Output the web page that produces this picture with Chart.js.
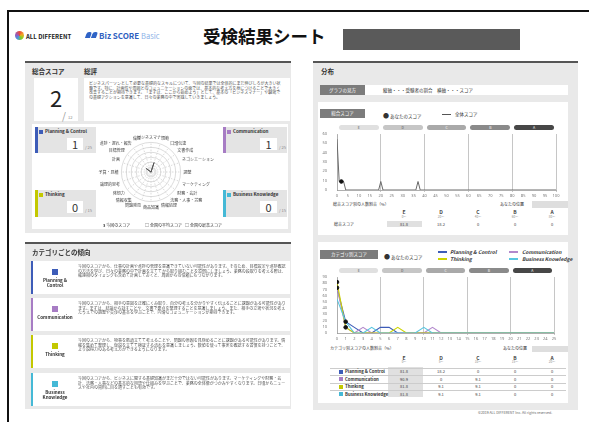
<!DOCTYPE html>
<html lang="ja">
<head>
<meta charset="utf-8">
<script src="https://cdn.jsdelivr.net/npm/chart.js@4.4.1/dist/chart.umd.min.js"></script>
<style>
body { margin: 0; background: #fff; font-family: "Noto Sans CJK JP", "Noto Sans", sans-serif; color: #333; }
#page { position: relative; width: 589px; height: 422px; overflow: hidden; }
.a { position: absolute; }
.panel { background: #e9e9e9; border-top: 2px solid #555; box-sizing: border-box; }
.card { background: #fff; }
.lbl { background: #7c7c7c; color: #fff; font-size: 4.5px; line-height: 9px; text-align: center; }
.tiny { font-size: 4px; line-height: 4.7px; color: #555; overflow: hidden; }
.h { font-size: 6.5px; font-weight: bold; color: #333; }
.box { background: #e4e4e4; box-sizing: border-box; border-left: 3px solid; }
.boxt { font-size: 4.5px; font-weight: bold; color: #333; white-space: nowrap; }
.wbox { background: #fff; text-align: center; font-size: 11px; line-height: 12px; color: #333; }
.of { font-size: 4px; color: #888; }
.tcard { background: #fff; box-sizing: border-box; border-left: 2px solid; }
.sq { width: 6px; height: 6px; }
.cl { font-size: 4.5px; font-weight: bold; text-align: center; line-height: 5px; color: #333; }
.pill { height: 5px; border-radius: 3px; font-size: 3.5px; line-height: 5px; text-align: center; }
.cell { font-size: 4px; text-align: center; color: #444; }
.leg { font-size: 4.5px; color: #333; white-space: nowrap; }
.legb { font-size: 5px; font-weight: bold; font-style: italic; color: #333; white-space: nowrap; }
</style>
</head>
<body>
<div id="page">
  <!-- header -->
  <div class="a" style="left:7px;top:10px;width:600px;height:420px;border-top:2px solid #111;border-left:2px solid #111;"></div>
  <div class="a" style="left:15px;top:31px;width:9px;height:9px;border-radius:50%;background:conic-gradient(#e94b3c,#f5a623,#7ed321,#4a90e2,#9b59b6,#e94b3c);"></div>
  <div class="a" style="left:26px;top:32px;font-size:6px;font-weight:bold;color:#222;">ALL DIFFERENT</div>
  <div class="a" style="left:86px;top:32px;width:5px;height:6px;background:#2f63c6;transform:skewX(-20deg);border-radius:2px 2px 0 0;"></div>
  <div class="a" style="left:92px;top:32px;width:5px;height:6px;background:#2f63c6;transform:skewX(-20deg);border-radius:2px 2px 0 0;"></div>
  <div class="a" style="left:99px;top:30px;font-size:8px;font-weight:bold;color:#2f5fbf;white-space:nowrap;">Biz SCORE <span style="font-weight:normal;color:#8db3e8;font-size:7.5px;">Basic</span></div>
  <div class="a" style="left:203px;top:23px;font-size:17.5px;font-weight:bold;color:#111;white-space:nowrap;">受検結果シート</div>
  <div class="a" style="left:343px;top:29px;width:177px;height:21px;background:#5a5a5a;"></div>

  <!-- left panel 1 -->
  <div class="a panel" style="left:25px;top:61px;width:266px;height:172px;"></div>
  <div class="a h" style="left:32px;top:66px;">総合スコア</div>
  <div class="a h" style="left:84px;top:66px;">総評</div>
  <div class="a card" style="left:34px;top:78px;width:44px;height:43px;"></div>
  <div class="a" style="left:34px;top:84px;width:44px;text-align:center;font-size:22px;line-height:26px;color:#222;">2</div>
  <div class="a" style="left:62px;top:108px;font-size:10px;color:#999;">/</div>
  <div class="a of" style="left:68px;top:114px;">12</div>
  <div class="a card" style="left:84px;top:78px;width:206px;height:43px;"></div>
  <div class="a tiny" style="left:89px;top:81px;width:195px;height:30px;">ビジネスパーソンとして必要な基礎的なスキルについて、今回の結果では全体的にまだ伸びしろが大きい状態です。特に、計画性や周囲とのコミュニケーションの面では、基本的な考え方を身につけることで大きく改善することが期待できます。「まずは、ここから始めよう」として、基本の「ビジネスマナー」や職場での基礎アクションを意識して、日々の業務の中で実践していきましょう。</div>
  <div class="a card" style="left:32px;top:124px;width:256px;height:105px;"></div>

  <div class="a box" style="left:35px;top:127px;width:61px;height:26px;border-color:#3d5cb8;"></div>
  <div class="a" style="left:39px;top:130px;width:4px;height:4px;background:#3d5cb8;"></div>
  <div class="a boxt" style="left:45px;top:128px;">Planning &amp; Control</div>
  <div class="a wbox" style="left:67px;top:138px;width:16px;height:12px;">1</div>
  <div class="a of" style="left:85px;top:144px;">/ 25</div>

  <div class="a box" style="left:223px;top:127px;width:64px;height:26px;border-color:#a77cc4;"></div>
  <div class="a" style="left:227px;top:130px;width:4px;height:4px;background:#a77cc4;"></div>
  <div class="a boxt" style="left:233px;top:128px;">Communication</div>
  <div class="a wbox" style="left:260px;top:138px;width:17px;height:12px;">1</div>
  <div class="a of" style="left:279px;top:144px;">/ 25</div>

  <div class="a box" style="left:35px;top:190px;width:61px;height:27px;border-color:#c3c800;"></div>
  <div class="a" style="left:39px;top:193px;width:4px;height:4px;background:#c3c800;"></div>
  <div class="a boxt" style="left:45px;top:191px;">Thinking</div>
  <div class="a wbox" style="left:67px;top:201px;width:16px;height:12px;">0</div>
  <div class="a of" style="left:85px;top:207px;">/ 15</div>

  <div class="a box" style="left:223px;top:190px;width:64px;height:27px;border-color:#45b9d6;"></div>
  <div class="a" style="left:227px;top:193px;width:4px;height:4px;background:#45b9d6;"></div>
  <div class="a boxt" style="left:233px;top:191px;">Business Knowledge</div>
  <div class="a wbox" style="left:260px;top:201px;width:17px;height:12px;">0</div>
  <div class="a of" style="left:279px;top:207px;">/ 15</div>

  <canvas id="chart-radar" class="a" width="126" height="102" style="left:94px;top:121px;"></canvas>
  <div class="a leg" style="left:103px;top:222px;font-size:4px;"><b>3</b> 今回のスコア</div>
  <div class="a leg" style="left:145px;top:222px;font-size:4px;">□ 全国の平均スコア</div>
  <div class="a leg" style="left:185px;top:222px;font-size:4px;">□ 全国の最高スコア</div>

  <!-- left panel 2 -->
  <div class="a panel" style="left:25px;top:242px;width:266px;height:167px;"></div>
  <div class="a h" style="left:32px;top:247px;">カテゴリごとの傾向</div>
  <div id="trend-cards"></div>

  <!-- right panel -->
  <div class="a panel" style="left:313px;top:61px;width:265px;height:349px;"></div>
  <div class="a h" style="left:321px;top:66px;">分布</div>
  <div class="a card" style="left:320px;top:85px;width:248px;height:10px;"></div>
  <div class="a lbl" style="left:320px;top:85px;width:45px;height:10px;line-height:10px;">グラフの見方</div>
  <div class="a leg" style="left:383px;top:87px;">縦軸・・・受験者の割合　横軸・・・スコア</div>

  <div class="a card" style="left:318px;top:102px;width:250px;height:133px;"></div>
  <div class="a lbl" style="left:320px;top:109px;width:45px;height:9px;">総合スコア</div>
  <div class="a leg" style="left:383px;top:111px;"><span style="font-size:6px;">●</span> あなたのスコア</div>
  <div class="a" style="left:442px;top:114px;width:9px;height:1px;background:#555;"></div>
  <div class="a leg" style="left:455px;top:111px;">全体スコア</div>
  <div id="pills-total"></div>
  <canvas id="chart-total" class="a" width="239" height="70" style="left:322px;top:129px;"></canvas>
  <div class="a leg" style="left:333px;top:201px;font-size:4px;">総合スコア別の人数割合（%）</div>
  <div class="a leg" style="left:500px;top:201px;font-size:4px;">あなたの位置</div>
  <div class="a" style="left:532px;top:201px;width:36px;height:7px;background:#dedede;"></div>
  <div id="table-total"></div>

  <div class="a card" style="left:318px;top:242px;width:250px;height:161px;"></div>
  <div class="a lbl" style="left:320px;top:250px;width:58px;height:9px;">カテゴリ別スコア</div>
  <div class="a leg" style="left:384px;top:252px;"><span style="font-size:6px;">●</span> あなたのスコア</div>
  <div class="a" style="left:438px;top:251px;width:9px;height:1.5px;background:#3d5cb8;"></div>
  <div class="a legb" style="left:450px;top:248px;">Planning &amp; Control</div>
  <div class="a" style="left:438px;top:258px;width:9px;height:1.5px;background:#cdd400;"></div>
  <div class="a legb" style="left:450px;top:255px;">Thinking</div>
  <div class="a" style="left:509px;top:251px;width:9px;height:1.5px;background:#b288cc;"></div>
  <div class="a legb" style="left:522px;top:248px;">Communication</div>
  <div class="a" style="left:509px;top:258px;width:9px;height:1.5px;background:#58c6e0;"></div>
  <div class="a legb" style="left:522px;top:255px;">Business Knowledge</div>
  <div id="pills-cat"></div>
  <canvas id="chart-cat" class="a" width="237" height="70" style="left:322px;top:272px;"></canvas>
  <div class="a leg" style="left:330px;top:345px;font-size:4px;">カテゴリ別スコアの人数割合（%）</div>
  <div class="a leg" style="left:503px;top:345px;font-size:4px;">あなたの位置</div>
  <div class="a" style="left:532px;top:346px;width:36px;height:6px;background:#dedede;"></div>
  <div id="table-cat"></div>

  <div class="a" style="left:478px;top:410px;font-size:3.5px;color:#666;white-space:nowrap;">©2019 ALL DIFFERENT Inc. All rights reserved.</div>
</div>

<script>
// radar: skill scores
const skillLabels = ["ビジネスマナー", "規範", "口頭伝達", "文書作成", "ネゴシエーション", "調整",
    "マーケティング", "財務・会計", "法務・人事・労務", "情報処理", "商品知識", "問題発見",
    "情報収集", "発想力", "論理的思考", "予算・見積", "計画", "目標管理", "進捗・遅れ・報告", "倫理"];
const skillScores = [0, 1, 0, 0, 0, 0, 0, 0, 0, 0, 0, 0, 0, 0, 0, 0, 0, 0.6, 0, 0];

// total score distribution
const totalScoreX = [0, 1, 2, 3, 4, 19, 20, 21, 36, 37, 38, 100];
const totalShare = [54.5, 9.1, 9.1, 9.1, 0, 0, 9.1, 0, 0, 9.1, 0, 0];
const myTotalX = [2];
const myTotalY = [9.1];
const totalTicksY = [0, 60, 10];

// grades
const gradeNames = ["E", "D", "C", "B", "A"];
const gradeColors = ["#e0e0e0", "#c6c6c6", "#a9a9a9", "#8a8a8a", "#474747"];
const gradeText = ["#555", "#555", "#fff", "#fff", "#fff"];
const totalGradeFrom = [0, 20, 40, 60, 80];
const totalGradeTo = [20, 40, 60, 80, 100];
const catGradeFrom = [0, 5, 10, 15, 20];
const catGradeTo = [5, 10, 15, 20, 25];

// category score distribution
const catScoreX = [0, 1, 2, 3, 4, 5, 6, 7, 8, 9, 10, 11, 12, 13, 14, 15, 16, 17, 18, 19, 20, 21, 22, 23, 24, 25];
const pcShare    = [72.7, 18.2, 9.1, 0, 0, 9.1, 9.1, 0, 0, 0, 0, 0, 0, 0, 0, 0, 0, 0, 0, 0, 0, 0, 0, 0, 0, 0];
const commShare  = [72.7, 9.1, 0, 9.1, 0, 0, 0, 0, 0, 0, 0, 9.1, 0, 0, 0, 0, 0, 0, 0, 0, 0, 0, 0, 0, 0, 0];
const thinkShare = [81.8, 9.1, 0, 0, 0, 0, 0, 9.1, 0, 0, 0, 0, 0, 0, 0, 0, 0, 0, 0, 0, 0, 0, 0, 0, 0, 0];
const bkShare    = [54.5, 18.2, 0, 0, 9.1, 0, 0, 0, 0, 0, 9.1, 0, 0, 0, 0, 0, 0, 0, 0, 0, 0, 0, 0, 0, 0, 0];
const myCatX = [0, 0, 1, 1];
const myCatY = [81.8, 72.7, 18.2, 9.1];

// tables (%)
const totalTable = [81.8, 18.2, 0, 0, 0];
const pcTable    = [81.8, 18.2, 0, 0, 0];
const commTable  = [90.9, 0, 9.1, 0, 0];
const thinkTable = [81.8, 9.1, 9.1, 0, 0];
const bkTable    = [81.8, 9.1, 9.1, 0, 0];
const totalSub = ["0〜", "20〜", "40〜", "60〜", "80〜"];
const catSub = ["0〜", "5〜", "10〜", "15〜", "20〜"];

const catNames = ["Planning & Control", "Communication", "Thinking", "Business Knowledge"];
const catColors = ["#3d5cb8", "#a77cc4", "#c3c800", "#45b9d6"];
const catTexts = [
    "今回のスコアから、仕事の計画や進捗の管理を意識できていない可能性があります。そのため、目標設定や進捗確認の方法を学び、日々の業務の中で計画を立ててから取り組むことを習慣にしましょう。業務の段取りを考える際は、報連相のタイミングも含めて計画しておくと、周囲からの信頼にもつながります。",
    "今回のスコアから、相手の意図を正確にくみ取り、自分の考えを分かりやすく伝えることに課題がある可能性があります。まずは、結論から話すことや、文書で要点を整理することを意識しましょう。また、相手の立場や状況を考えたうえでの調整や交渉の基本を学ぶことで、円滑なコミュニケーションが期待できます。",
    "今回のスコアから、物事を筋道立てて考えることや、問題の原因を見極めることに課題がある可能性があります。情報を集めて整理し、仮説を立てて検証する流れを意識しましょう。数値を使って事実を確認する習慣を持つことで、より説得力のある考え方ができるようになります。",
    "今回のスコアから、ビジネスに関する基礎知識がまだ十分ではない可能性があります。マーケティングや財務・会計、法務・人事などの基本的な用語や仕組みを学ぶことで、業務の全体像がつかみやすくなります。日頃からニュースや社内の資料に目を通すことも有効です。"
];
const catLabelHtml = ["Planning &amp;<br>Control", "Communication", "Thinking", "Business<br>Knowledge"];
const tableColX = [404, 441, 478, 515, 552];

function el(parent, cls, style, html) {
    const d = document.createElement("div");
    d.className = "a " + cls;
    d.style.cssText = style;
    if (html !== undefined) d.innerHTML = html;
    document.getElementById(parent).appendChild(d);
    return d;
}

// trend cards (left bottom)
const cardTops = [261, 298, 335, 373];
catNames.forEach((n, i) => {
    const t = cardTops[i];
    el("trend-cards", "tcard", `left:31px;top:${t}px;width:259px;height:33px;border-color:${catColors[i]};`);
    el("trend-cards", "sq", `left:52px;top:${t + 8}px;background:${catColors[i]};`);
    el("trend-cards", "cl", `left:33px;top:${t + 17}px;width:44px;`, catLabelHtml[i]);
    el("trend-cards", "tiny", `left:78px;top:${t + 3}px;width:208px;height:24px;`, catTexts[i]);
});

function tickFont() { return { size: 4, family: "Noto Sans, sans-serif" }; }

// radar
new Chart(document.getElementById("chart-radar"), {
    type: "radar",
    data: {
        labels: skillLabels,
        datasets: [{
            data: skillScores,
            borderColor: "#555",
            borderWidth: 1,
            backgroundColor: "transparent",
            pointRadius: 0
        }]
    },
    options: {
        responsive: false,
        animation: false,
        plugins: { legend: { display: false }, tooltip: { enabled: false } },
        scales: {
            r: {
                min: 0, max: 3,
                ticks: { display: false, stepSize: 0.5 },
                grid: { circular: true, color: "#c4c4c4", lineWidth: 0.6, borderDash: [1.5, 1.5] },
                angleLines: { color: "#c4c4c4", lineWidth: 0.6, borderDash: [1.5, 1.5] },
                pointLabels: { font: { size: 4, family: "Noto Sans CJK JP" }, color: "#444", padding: 3 }
            }
        }
    }
});

// total score line
const totalChart = new Chart(document.getElementById("chart-total"), {
    type: "line",
    data: {
        datasets: [{
            type: "scatter",
            data: myTotalX.map((x, i) => ({ x: x, y: myTotalY[i] })),
            backgroundColor: "#111",
            borderColor: "#111",
            pointRadius: 1.8
        }, {
            data: totalScoreX.map((x, i) => ({ x: x, y: totalShare[i] })),
            borderColor: "#6a6a6a",
            borderWidth: 1,
            pointRadius: 0,
            tension: 0
        }]
    },
    options: {
        responsive: false,
        animation: false,
        layout: { padding: { top: 3, right: 4 } },
        plugins: { legend: { display: false }, tooltip: { enabled: false } },
        scales: {
            x: {
                type: "linear", min: 0, max: 100,
                afterFit: s => { s.height = 9; },
                ticks: { stepSize: 5, autoSkip: false, maxRotation: 0, font: tickFont(), color: "#777", padding: 1 },
                grid: { color: c => (c.tick && c.tick.value > 0 && c.tick.value % 20 === 0) ? "#c6c6c6" : "transparent", borderDash: [2, 2], tickLength: 2 },
                border: { color: "#999", width: 0.8 }
            },
            y: {
                min: totalTicksY[0], max: totalTicksY[1],
                afterFit: s => { s.width = 15; },
                ticks: { stepSize: totalTicksY[2], autoSkip: false, font: tickFont(), color: "#777", padding: 2 },
                grid: { display: false },
                border: { color: "#999", width: 0.8 }
            }
        }
    }
});

// category lines
const catChart = new Chart(document.getElementById("chart-cat"), {
    type: "line",
    data: {
        datasets: [{
            type: "scatter",
            data: myCatX.map((x, i) => ({ x: x, y: myCatY[i] })),
            backgroundColor: "#111",
            borderColor: "#111",
            pointRadius: 1.8
        }, {
            data: catScoreX.map((x, i) => ({ x: x, y: bkShare[i] })),
            borderColor: "#58c6e0", borderWidth: 1.1, pointRadius: 0, tension: 0
        }, {
            data: catScoreX.map((x, i) => ({ x: x, y: thinkShare[i] })),
            borderColor: "#cdd400", borderWidth: 1.1, pointRadius: 0, tension: 0
        }, {
            data: catScoreX.map((x, i) => ({ x: x, y: commShare[i] })),
            borderColor: "#b288cc", borderWidth: 1.1, pointRadius: 0, tension: 0
        }, {
            data: catScoreX.map((x, i) => ({ x: x, y: pcShare[i] })),
            borderColor: "#3d5cb8", borderWidth: 1.1, pointRadius: 0, tension: 0
        }]
    },
    options: {
        responsive: false,
        animation: false,
        layout: { padding: { top: 3, right: 4 } },
        plugins: { legend: { display: false }, tooltip: { enabled: false } },
        scales: {
            x: {
                type: "linear", min: 0, max: 25,
                afterFit: s => { s.height = 9; },
                ticks: { stepSize: 1, autoSkip: false, maxRotation: 0, font: tickFont(), color: "#777", padding: 1 },
                grid: { color: c => (c.tick && c.tick.value > 0 && c.tick.value % 5 === 0) ? "#c6c6c6" : "transparent", borderDash: [2, 2], tickLength: 2 },
                border: { color: "#999", width: 0.8 }
            },
            y: {
                min: 0, max: 90,
                afterFit: s => { s.width = 15; },
                ticks: { stepSize: 10, autoSkip: false, font: tickFont(), color: "#777", padding: 2 },
                grid: { display: false },
                border: { color: "#999", width: 0.8 }
            }
        }
    }
});

// grade pills, placed from the chart's own x scale
function pills(parent, chart, canvasLeft, top, from, to) {
    const sx = chart.scales.x;
    gradeNames.forEach((g, i) => {
        const l = canvasLeft + sx.getPixelForValue(from[i]) + 2;
        const r = canvasLeft + sx.getPixelForValue(to[i]) - 2;
        el(parent, "pill", `left:${l}px;top:${top}px;width:${r - l}px;background:${gradeColors[i]};color:${gradeText[i]};`, g);
    });
}
pills("pills-total", totalChart, 322, 125, totalGradeFrom, totalGradeTo);
pills("pills-cat", catChart, 322, 268, catGradeFrom, catGradeTo);

function fmt(v) { return v === 0 ? "0" : v.toFixed(1); }

// table under total chart
gradeNames.forEach((g, i) => {
    el("table-total", "cell", `left:${tableColX[i] - 15}px;top:209px;width:30px;font-size:5px;font-weight:bold;line-height:5px;`, g);
    el("table-total", "cell", `left:${tableColX[i] - 15}px;top:215.5px;width:30px;font-size:3px;line-height:3px;color:#888;`, totalSub[i]);
});
el("table-total", "", "left:387px;top:221px;width:35px;height:6px;background:#e0e0e0;");
el("table-total", "leg", "left:334px;top:221px;font-size:4px;", "総合スコア");
totalTable.forEach((v, i) => {
    el("table-total", "cell", `left:${tableColX[i] - 15}px;top:221px;width:30px;line-height:6px;`, fmt(v));
});

// table under category chart
gradeNames.forEach((g, i) => {
    el("table-cat", "cell", `left:${tableColX[i] - 15}px;top:354.5px;width:30px;font-size:5px;font-weight:bold;line-height:5px;`, g);
    el("table-cat", "cell", `left:${tableColX[i] - 15}px;top:361px;width:30px;font-size:3px;line-height:3px;color:#888;`, catSub[i]);
});
const catRows = [pcTable, commTable, thinkTable, bkTable];
const rowTops = [368, 375.5, 383, 390.5];
el("table-cat", "", "left:388px;top:367px;width:35px;height:30px;background:#e0e0e0;");
catRows.forEach((row, r) => {
    const t = rowTops[r];
    el("table-cat", "", `left:330px;top:${t - 0.5}px;width:236px;height:0.5px;background:#ccc;`);
    el("table-cat", "", `left:339px;top:${t + 1.5}px;width:4px;height:4px;background:${catColors[r]};`);
    el("table-cat", "boxt", `left:345px;top:${t}px;font-size:4.3px;line-height:7px;`, catNames[r].replace("&", "&amp;"));
    row.forEach((v, i) => {
        el("table-cat", "cell", `left:${tableColX[i] - 15}px;top:${t}px;width:30px;line-height:7px;`, fmt(v));
    });
});
</script>
</body>
</html>
